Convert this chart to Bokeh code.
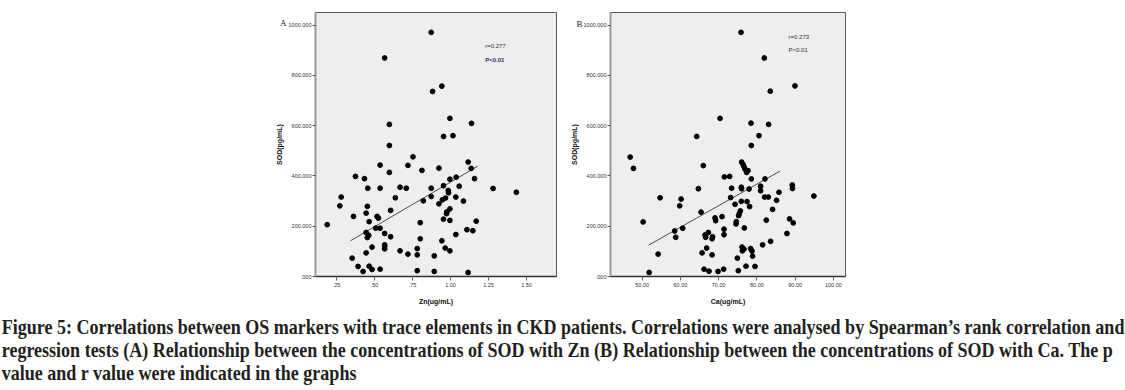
from bokeh.plotting import figure
from bokeh.layouts import row, column
from bokeh.models import (Div, Label, CustomJSTickFormatter, FixedTicker, Range1d,
                          LinearAxis)
from bokeh.embed import file_html
from bokeh.resources import INLINE

# ---------------- data ----------------
zn_x = [0.873, 0.567, 0.943, 0.882, 0.996, 1.138, 0.598, 0.954, 1.016, 0.598, 0.753,
        1.116, 1.136, 0.537, 0.720, 0.924, 0.812, 0.598, 0.375, 0.434, 1.037, 0.996, 1.158,
        0.456, 0.537, 0.668, 0.709, 0.873, 0.954, 1.057, 1.280, 1.433,
        0.281, 0.637, 0.873, 0.985, 0.987, 1.035, 0.967, 0.946, 1.085, 0.821, 0.924,
        0.272, 0.453, 0.996, 0.606, 0.976, 0.445, 0.974, 0.362, 0.517, 0.526, 0.954, 0.996,
        1.169, 0.465, 0.801, 0.189,
        0.508, 0.537, 1.108, 1.147, 0.445, 0.567, 0.462, 1.035, 0.606, 0.453, 0.801, 0.943,
        0.567, 0.567, 0.484, 0.567, 0.781, 0.965, 0.668, 0.996, 0.445, 0.720, 0.781, 0.893, 0.353,
        0.392, 0.465, 0.484, 0.537, 0.425, 0.781, 0.893, 1.116]
zn_sod = [971, 869, 757, 736, 629, 609, 605, 557, 560, 521, 476,
          455, 430, 443, 442, 431, 422, 414, 398, 389, 395, 387, 389,
          351, 351, 355, 351, 351, 361, 359, 350, 335,
          316, 313, 318, 342, 333, 316, 312, 305, 300, 301, 289,
          281, 279, 269, 263, 257, 252, 250, 239, 239, 232, 228, 223,
          220, 218, 214, 206,
          192, 192, 186, 182, 175, 171, 164, 167, 158, 155, 150, 142,
          126, 120, 117, 110, 111, 113, 102, 102, 94, 89, 86, 82, 73,
          40, 41, 28, 29, 20, 23, 20, 16]

ca_x = [75.85, 81.93, 89.95, 83.5, 70.37, 78.46, 83.06, 64.26, 80.55, 78.54, 46.87,
        47.73, 66.0, 76.0, 76.37, 76.63, 76.89, 77.68, 77.31, 71.49, 72.87, 82.11, 78.54,
        64.7, 73.39, 75.93, 76.0, 77.94, 80.97, 80.97, 89.24, 89.3, 85.77, 94.9,
        54.7, 60.18, 59.82, 73.13, 82.01, 82.98, 85.14, 75.93, 77.42, 74.28, 78.09, 84.1,
        65.4, 75.67, 75.4, 75.22, 70.89, 69.06, 69.22, 74.62, 74.54, 88.54, 89.5, 82.45, 50.26,
        60.6, 76.71, 71.41, 58.51, 67.31, 66.45, 71.41, 66.6, 68.43, 68.28, 58.77, 87.86, 83.58, 81.49,
        66.87, 76.11, 76.63, 78.36, 78.72, 76.19, 65.67, 68.28, 78.88, 54.18, 74.88,
        66.19, 67.49, 69.84, 71.31, 75.14, 77.15, 79.5, 51.83]
ca_sod = [971, 869, 758, 737, 629, 610, 605, 557, 560, 521, 475,
          430, 441, 455, 446, 437, 427, 421, 414, 396, 398, 388, 388,
          349, 351, 355, 349, 348, 359, 341, 364, 350, 335, 320,
          313, 308, 281, 314, 316, 316, 303, 299, 298, 287, 278, 267,
          256, 261, 250, 242, 238, 233, 222, 218, 209, 229, 213, 224, 217,
          192, 193, 188, 181, 175, 165, 166, 156, 158, 150, 156, 171, 140, 126,
          113, 117, 109, 111, 101, 102, 94, 86, 81, 89, 73,
          29, 21, 20, 29, 23, 41, 40, 16]

zn_fit_x = [0.342, 1.18]
zn_fit_y = [142, 439]
ca_fit_x = [51.72, 86.03]
ca_fit_y = [125, 419]

sod_ticks = [0, 200, 400, 600, 800, 1000]
zn_ticks = [0.25, 0.5, 0.75, 1.0, 1.25, 1.5]
ca_ticks = [50, 60, 70, 80, 90, 100]

caption_lines = [
    "Figure 5: Correlations between OS markers with trace elements in CKD patients. Correlations were analysed by Spearman\u2019s rank correlation and",
    "regression tests (A) Relationship between the concentrations of SOD with Zn (B) Relationship between the concentrations of SOD with Ca. The p",
    "value and r value were indicated in the graphs",
]

TICK_FONT = "Liberation Sans"


def make_panel(xs, ys, fx, fy, xr, yr, xticks, xfmt, xlabel, letter, letter_y,
               letter_standoff, r_text, p_text, p_color, rp_x, r_y, p_y, p_bold,
               left_border, right_border, frame_w):
    p = figure(frame_width=frame_w, frame_height=264,
               min_border_left=left_border, min_border_right=right_border,
               min_border_top=12, min_border_bottom=34,
               x_range=Range1d(*xr), y_range=Range1d(*yr),
               output_backend="svg", toolbar_location=None)
    p.background_fill_color = "#eeeeee"
    p.border_fill_color = "white"
    p.outline_line_color = "#555555"
    p.outline_line_width = 1
    p.grid.visible = False

    # axes
    p.yaxis.ticker = FixedTicker(ticks=sod_ticks)
    p.yaxis.formatter = CustomJSTickFormatter(
        code="return tick == 0 ? '.000' : tick.toFixed(3);")
    p.xaxis.ticker = FixedTicker(ticks=xticks)
    p.xaxis.formatter = CustomJSTickFormatter(code=xfmt)
    for ax in (p.xaxis[0], p.yaxis[0]):
        ax.minor_tick_line_color = None
        ax.major_tick_in = 0
        ax.major_label_text_font = TICK_FONT
        ax.major_label_text_font_size = "5.5px"
        ax.major_label_text_color = "#333333"
        ax.axis_label_text_font = "Liberation Sans"
        ax.axis_label_text_font_style = "bold"
        ax.axis_label_text_font_size = "7px"
        ax.axis_label_text_color = "#111111"
    p.yaxis.axis_line_color = "#9a9a9a"
    p.yaxis.axis_line_width = 2
    p.yaxis.major_tick_out = 3
    p.yaxis.major_tick_line_color = "#555555"
    p.yaxis.major_label_standoff = 1
    p.yaxis.axis_label_standoff = 3
    p.yaxis.axis_label = "SOD(pg/mL)"
    p.xaxis.axis_line_color = "#333333"
    p.xaxis.axis_line_width = 1.5
    p.xaxis.major_tick_out = 4
    p.xaxis.major_tick_line_color = "#666666"
    p.xaxis.major_label_standoff = 2
    p.xaxis.axis_label_standoff = 8
    p.xaxis.axis_label = xlabel

    # panel letter, drawn as a tick label of a bare extra axis outside the frame
    letter_axis = LinearAxis(
        ticker=FixedTicker(ticks=[letter_y]),
        formatter=CustomJSTickFormatter(code="return '%s';" % letter),
        axis_line_color=None, major_tick_line_color=None,
        minor_tick_line_color=None, major_tick_out=0, major_tick_in=0,
        major_label_standoff=letter_standoff,
        major_label_text_font="Liberation Serif",
        major_label_text_font_size="9px",
        major_label_text_color="#222222")
    p.add_layout(letter_axis, "left")

    p.line(fx, fy, line_color="#222222", line_width=0.8)
    p.scatter(xs, ys, size=4.8, fill_color="black", line_color="black")

    p.add_layout(Label(x=rp_x, y=r_y, text=r_text, text_font=TICK_FONT,
                       text_font_size="6px", text_baseline="middle",
                       text_color="#333333"))
    p.add_layout(Label(x=rp_x, y=p_y, text=p_text, text_font=TICK_FONT,
                       text_font_size="6px", text_baseline="middle",
                       text_font_style="bold" if p_bold else "normal",
                       text_color=p_color))
    return p


pa = make_panel(zn_x, zn_sod, zn_fit_x, zn_fit_y, (0.112, 1.697), (0, 1050),
                zn_ticks,
                "var s = tick.toFixed(2); return s.charAt(0) == '0' ? s.slice(1) : s;",
                "Zn(ug/mL)", "A", 1008, -14,
                "r=0.277", "P<0.01", "#1f3466", 1.228, 916, 863, True,
                315, 4, 241)
pb = make_panel(ca_x, ca_sod, ca_fit_x, ca_fit_y, (41.73, 103.16), (0, 1050),
                ca_ticks, "return tick.toFixed(2);",
                "Ca(ug/mL)", "B", 1003, -15,
                "r=0.273", "P<0.01", "#333333", 88.28, 952, 900, False,
                50, 280, 235)

cap_html = ("<div style=\"font-family:'Liberation Serif',serif;font-weight:bold;"
            "font-size:21px;line-height:23px;color:#231f20;white-space:nowrap;"
            "padding-top:6px;padding-left:2px;transform:scaleX(0.858);transform-origin:0 0;\">"
            + "<br>".join(caption_lines) + "</div>")
cap = Div(text=cap_html, width=1125, height=80, margin=0)

layout = column(row(pa, pb, spacing=0), cap, spacing=0)

open("out.html", "w").write(file_html(layout, INLINE))
